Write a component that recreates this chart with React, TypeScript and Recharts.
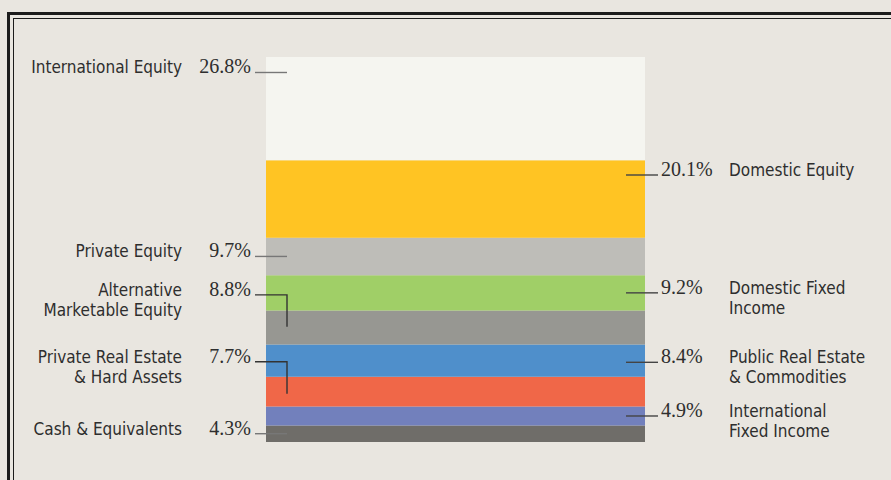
import React from 'react';
import { BarChart, Bar, XAxis, YAxis, LabelList } from 'recharts';

// stacking order: bottom segment first
const categories = [
  'Cash & Equivalents',
  'International Fixed Income',
  'Private Real Estate & Hard Assets',
  'Public Real Estate & Commodities',
  'Alternative Marketable Equity',
  'Domestic Fixed Income',
  'Private Equity',
  'Domestic Equity',
  'International Equity',
];
const shares = [4.3, 4.9, 7.7, 8.4, 8.8, 9.2, 9.7, 20.1, 26.8];
const nameLines = [
  ['Cash & Equivalents'],
  ['International', 'Fixed Income'],
  ['Private Real Estate', '& Hard Assets'],
  ['Public Real Estate', '& Commodities'],
  ['Alternative', 'Marketable Equity'],
  ['Domestic Fixed', 'Income'],
  ['Private Equity'],
  ['Domestic Equity'],
  ['International Equity'],
];

const colors = ['#6f6d69', '#7280bc', '#f06748', '#4f8fcb', '#979792', '#a0cf67', '#bebdb8', '#ffc423', '#f5f5f0'];
const sides = ['left', 'right', 'left', 'right', 'left', 'right', 'left', 'right', 'left'];
const anchorFrac = [0.5, 0.5, 0.57, 0.55, 0.48, 0.5, 0.5, 0.19, 0.15];
const elbowRise = [0, 0, 32, 0, 32, 0, 0, 0, 0];

const total = shares.reduce((a, b) => a + b, 0);
const row: Record<string, number | string> = { name: 'allocation' };
categories.forEach((c, i) => { row[c] = shares[i]; });
const data = [row];

const NAME_FONT = "'Liberation Sans Narrow', 'DejaVu Sans Condensed', 'Roboto', sans-serif";
const PCT_FONT = "'Liberation Serif', 'DejaVu Serif', serif";
const INK = '#2e2e2e';

const Callout = (props: any, i: number) => {
  const vb = props.viewBox || props;
  const x = Number(vb.x), y = Number(vb.y), w = Number(vb.width), h = Number(vb.height);
  const lineY = y + h * anchorFrac[i];
  const rise = elbowRise[i];
  const textY = lineY - rise;
  const pct = `${shares[i].toFixed(1)}%`;
  if (sides[i] === 'left') {
    const x0 = x - 11, x1 = x + 21;
    const d = rise ? `M${x0},${textY}H${x1}V${lineY}` : `M${x0},${lineY}H${x1}`;
    return (
      <g>
        <path d={d} stroke={rise ? '#333' : '#777'} strokeWidth={1.4} fill="none" />
        <text x={x - 15} y={textY + 1} textAnchor="end" fontFamily={PCT_FONT} fontSize={20} fill={INK}>{pct}</text>
        {nameLines[i].map((t, k) => (
          <text key={k} x={x - 84} y={textY + 1 + k * 20} textAnchor="end" fontFamily={NAME_FONT}
            fontSize={17} fill={INK}>{t}</text>
        ))}
      </g>
    );
  }
  const x0 = x + w - 19, x1 = x + w + 13;
  return (
    <g>
      <path d={`M${x0},${lineY}H${x1}`} stroke="#444" strokeWidth={1.4} fill="none" />
      <text x={x + w + 16} y={lineY + 1} textAnchor="start" fontFamily={PCT_FONT} fontSize={20} fill={INK}>{pct}</text>
      {nameLines[i].map((t, k) => (
        <text key={k} x={x + w + 84} y={lineY + 1 + k * 20} textAnchor="start" fontFamily={NAME_FONT}
          fontSize={17} fill={INK}>{t}</text>
      ))}
    </g>
  );
};

export default function App() {
  return (
    <div style={{ position: 'absolute', left: 0, top: 0, width: 891, height: 480, background: '#e9e6e0', overflow: 'hidden' }}>
      <div style={{ position: 'absolute', left: 7, top: 12, width: 1000, height: 1000, border: '3px solid #1c1c1c' }} />
      <div style={{ position: 'absolute', left: 12.5, top: 17.5, width: 1000, height: 1000, border: '1.2px solid #1c1c1c' }} />
      <div style={{ position: 'absolute', left: 0, top: 0 }}>
        <BarChart width={891} height={480} data={data} barCategoryGap={0}
          margin={{ top: 57, right: 246, bottom: 38, left: 266 }}>
          <XAxis dataKey="name" type="category" hide />
          <YAxis type="number" domain={[0, total]} hide />
          {categories.map((c, i) => (
            <Bar key={c} dataKey={c} stackId="mix" fill={colors[i]} isAnimationActive={false}>
              <LabelList dataKey={c} content={(p: any) => Callout(p, i)} />
            </Bar>
          ))}
        </BarChart>
      </div>
    </div>
  );
}
